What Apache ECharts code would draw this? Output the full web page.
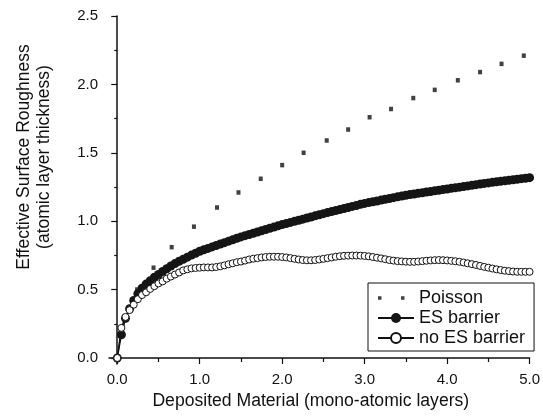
<!DOCTYPE html>
<html>
<head>
<meta charset="utf-8">
<script src="https://cdn.jsdelivr.net/npm/echarts@6/dist/echarts.min.js"></script>
<style>
  html, body { margin: 0; padding: 0; background: #fff; }
  #chart { width: 543px; height: 416px; }
</style>
</head>
<body>
<div id="chart"></div>
<script>
// deposited material (mono-atomic layers), one sample every 0.05
const deposited = [
  0.00, 0.05, 0.10, 0.15, 0.20, 0.25, 0.30, 0.35, 0.40, 0.45,
  0.50, 0.55, 0.60, 0.65, 0.70, 0.75, 0.80, 0.85, 0.90, 0.95,
  1.00, 1.05, 1.10, 1.15, 1.20, 1.25, 1.30, 1.35, 1.40, 1.45,
  1.50, 1.55, 1.60, 1.65, 1.70, 1.75, 1.80, 1.85, 1.90, 1.95,
  2.00, 2.05, 2.10, 2.15, 2.20, 2.25, 2.30, 2.35, 2.40, 2.45,
  2.50, 2.55, 2.60, 2.65, 2.70, 2.75, 2.80, 2.85, 2.90, 2.95,
  3.00, 3.05, 3.10, 3.15, 3.20, 3.25, 3.30, 3.35, 3.40, 3.45,
  3.50, 3.55, 3.60, 3.65, 3.70, 3.75, 3.80, 3.85, 3.90, 3.95,
  4.00, 4.05, 4.10, 4.15, 4.20, 4.25, 4.30, 4.35, 4.40, 4.45,
  4.50, 4.55, 4.60, 4.65, 4.70, 4.75, 4.80, 4.85, 4.90, 4.95,
  5.00
];

// roughness with ES barrier (filled circles)
const esBarrier = [
  0.000, 0.170, 0.290, 0.360, 0.420, 0.470, 0.510, 0.540, 0.565, 0.590,
  0.610, 0.632, 0.652, 0.672, 0.690, 0.707, 0.722, 0.737, 0.752, 0.766,
  0.780, 0.791, 0.801, 0.812, 0.822, 0.833, 0.843, 0.854, 0.864, 0.875,
  0.885, 0.894, 0.903, 0.912, 0.921, 0.930, 0.939, 0.948, 0.957, 0.966,
  0.975, 0.983, 0.991, 0.999, 1.007, 1.015, 1.023, 1.031, 1.039, 1.047,
  1.055, 1.063, 1.070, 1.078, 1.085, 1.093, 1.100, 1.108, 1.115, 1.123,
  1.130, 1.136, 1.142, 1.148, 1.154, 1.160, 1.166, 1.172, 1.178, 1.184,
  1.190, 1.195, 1.199, 1.204, 1.208, 1.213, 1.217, 1.222, 1.226, 1.231,
  1.235, 1.240, 1.244, 1.249, 1.253, 1.258, 1.262, 1.267, 1.271, 1.276,
  1.280, 1.284, 1.288, 1.292, 1.295, 1.299, 1.303, 1.307, 1.311, 1.314,
  1.318
];

// roughness without ES barrier (open circles)
const noEsBarrier = [
  0.000, 0.220, 0.300, 0.350, 0.390, 0.430, 0.460, 0.480, 0.505, 0.525,
  0.545, 0.560, 0.580, 0.595, 0.610, 0.625, 0.640, 0.648, 0.655, 0.658,
  0.660, 0.662, 0.662, 0.662, 0.665, 0.670, 0.677, 0.685, 0.692, 0.700,
  0.705, 0.712, 0.720, 0.726, 0.730, 0.735, 0.738, 0.740, 0.740, 0.740,
  0.738, 0.735, 0.730, 0.725, 0.720, 0.716, 0.714, 0.714, 0.716, 0.720,
  0.725, 0.730, 0.735, 0.740, 0.744, 0.747, 0.748, 0.749, 0.749, 0.748,
  0.746, 0.743, 0.738, 0.733, 0.728, 0.722, 0.716, 0.712, 0.708, 0.706,
  0.704, 0.703, 0.703, 0.705, 0.708, 0.711, 0.713, 0.715, 0.716, 0.715,
  0.713, 0.710, 0.707, 0.703, 0.698, 0.692, 0.686, 0.680, 0.673, 0.666,
  0.660, 0.654, 0.648, 0.643, 0.638, 0.635, 0.632, 0.630, 0.630, 0.630,
  0.630
];

// Poisson reference (dotted)
const poissonX = [0.24, 0.44, 0.66, 0.93, 1.21, 1.47, 1.74, 2.00, 2.26, 2.54,
  2.80, 3.06, 3.32, 3.59, 3.85, 4.13, 4.40, 4.66, 4.93];
const poissonY = [0.50, 0.66, 0.81, 0.96, 1.10, 1.21, 1.31, 1.41, 1.50, 1.59,
  1.67, 1.76, 1.82, 1.90, 1.96, 2.03, 2.09, 2.15, 2.21];

// tick labels
const xMajor = [0, 1, 2, 3, 4, 5];
const xMinor = [0.5, 1.5, 2.5, 3.5, 4.5];
const yMajor = [0, 0.5, 1.0, 1.5, 2.0, 2.5];
const yMinor = [0.25, 0.75, 1.25, 1.75, 2.25];

const ink = '#111';
const font = "'Liberation Sans', Arial, sans-serif";

const pairs = (xs, ys) => xs.map((x, i) => [x, ys[i]]);

const myChart = echarts.init(document.getElementById('chart'));

const option = {
  animation: false,
  textStyle: { fontFamily: font, color: ink },
  grid: { left: 109, right: 12, top: 16, bottom: 52 },
  legend: {
    orient: 'vertical',
    left: 368,
    top: 283,
    padding: [6, 9, 4, 9],
    itemGap: 2,
    itemWidth: 36,
    itemHeight: 12.5,
    borderColor: ink,
    borderWidth: 1,
    backgroundColor: '#fff',
    textStyle: { fontSize: 18, color: ink, fontFamily: font, lineHeight: 18 },
    data: [
      // two small squares for the dotted curve
      { name: 'Poisson', icon: 'path://M0,0L0,0M0,4.5h3.5v3.5h-3.5zM23,4.5h3.5v3.5h-3.5zM36,12.5L36,12.5' },
      { name: 'ES barrier' },
      { name: 'no ES barrier' }
    ]
  },
  xAxis: [
    {
      type: 'value',
      min: -0.1,
      max: 5,
      position: 'bottom',
      name: 'Deposited Material (mono-atomic layers)',
      nameLocation: 'middle',
      nameGap: 27,
      nameTextStyle: { fontSize: 17.6, color: ink, padding: [0, 17, 0, 0] },
      axisLine: { lineStyle: { color: ink, width: 1.5 } },
      axisTick: { customValues: xMajor, length: 6, lineStyle: { color: ink, width: 1.2 } },
      axisLabel: {
        customValues: xMajor,
        margin: 8,
        fontSize: 15,
        color: ink,
        formatter: v => v.toFixed(1)
      },
      splitLine: { show: false }
    },
    {
      // minor ticks only
      type: 'value',
      min: -0.1,
      max: 5,
      position: 'bottom',
      axisLine: { show: false },
      axisTick: { customValues: xMinor, length: 4, lineStyle: { color: ink, width: 1.2 } },
      axisLabel: { show: false },
      splitLine: { show: false }
    }
  ],
  yAxis: [
    {
      type: 'value',
      min: -0.044,
      max: 2.5,
      position: 'left',
      name: 'Effective Surface Roughness\n(atomic layer thickness)',
      nameLocation: 'middle',
      nameGap: 55,
      nameTextStyle: { fontSize: 17.5, color: ink, lineHeight: 20, padding: [0, 0, 0, 66] },
      axisLine: { show: true, lineStyle: { color: ink, width: 1.5 } },
      axisTick: { show: true, customValues: yMajor, length: 6, lineStyle: { color: ink, width: 1.2 } },
      axisLabel: {
        customValues: yMajor,
        margin: 11,
        fontSize: 15,
        color: ink,
        formatter: v => v.toFixed(1)
      },
      splitLine: { show: false }
    },
    {
      // minor ticks only
      type: 'value',
      min: -0.044,
      max: 2.5,
      position: 'left',
      axisLine: { show: false },
      axisTick: { show: true, customValues: yMinor, length: 3, lineStyle: { color: ink, width: 1.2 } },
      axisLabel: { show: false },
      splitLine: { show: false }
    }
  ],
  series: [
    {
      name: 'Poisson',
      type: 'scatter',
      symbol: 'rect',
      symbolSize: [4, 4.5],
      itemStyle: { color: '#111' },
      data: pairs(poissonX, poissonY)
    },
    {
      name: 'ES barrier',
      type: 'line',
      symbol: 'circle',
      symbolSize: 9,
      showAllSymbol: true,
      itemStyle: { color: '#151515' },
      lineStyle: { color: ink, width: 1.5 },
      data: pairs(deposited, esBarrier)
    },
    {
      name: 'no ES barrier',
      type: 'line',
      symbol: 'circle',
      symbolSize: 7,
      showAllSymbol: true,
      itemStyle: { color: '#fff', borderColor: ink, borderWidth: 1 },
      lineStyle: { color: ink, width: 1.5 },
      data: pairs(deposited, noEsBarrier)
    }
  ]
};

myChart.setOption(option);
</script>
</body>
</html>
